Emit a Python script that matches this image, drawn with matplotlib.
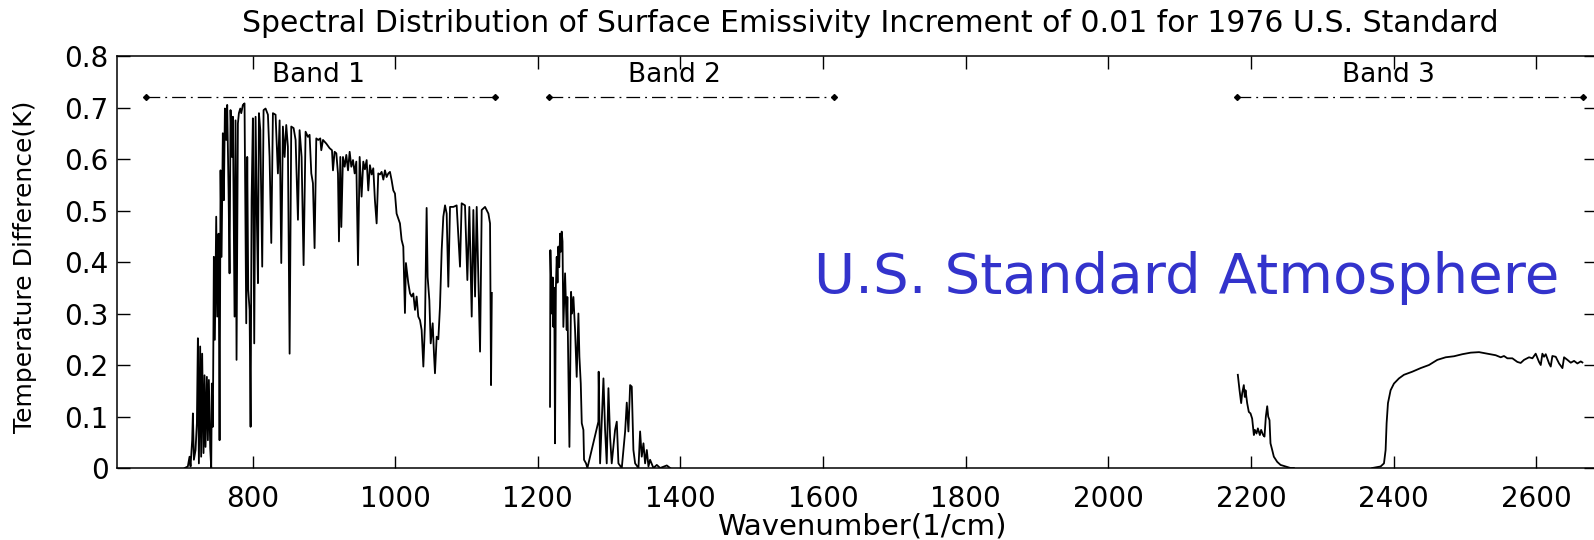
#!/usr/bin/env python

import matplotlib
matplotlib.use('Agg')
import matplotlib.pyplot as plt

plt.rc('font', family='DejaVu Sans')

# band 1 (long-wave window)
band1_x = [705.0, 709.3, 711.7, 713.1, 715.4, 716.4, 717.8, 720.1, 722.0, 723.4,
           724.8, 726.6, 728.0, 729.4, 731.3, 732.7, 734.1, 736.0, 737.4, 738.8,
           740.7, 742.1, 743.0, 744.4, 745.8, 747.2, 749.1, 750.5, 752.4, 753.8,
           755.2, 756.6, 758.4, 759.8, 761.3, 763.1, 764.5, 766.4, 767.8, 769.2,
           771.1, 772.5, 774.8, 776.2, 777.6, 779.5, 780.9, 782.8, 784.2, 786.5,
           788.8, 791.2, 792.6, 794.0, 795.9, 797.3, 798.7, 800.5, 802.4, 804.3,
           806.2, 807.6, 809.0, 810.9, 813.6, 815.5, 818.3, 821.6, 823.9, 826.3,
           828.6, 832.3, 835.6, 838.0, 840.3, 842.6, 845.0, 847.3, 849.6, 852.0,
           854.3, 857.6, 860.4, 863.7, 866.0, 868.8, 871.6, 874.4, 877.7, 880.0,
           882.4, 884.7, 887.0, 889.4, 892.2, 895.0, 896.4, 898.8, 903.4, 908.1,
           911.4, 912.8, 915.1, 917.5, 919.8, 921.2, 923.1, 924.5, 926.8, 929.2,
           931.5, 933.9, 936.2, 938.5, 940.9, 943.2, 945.5, 947.9, 950.2, 952.9,
           955.3, 957.6, 960.0, 962.3, 964.6, 967.0, 969.3, 971.6, 974.0, 976.3,
           978.7, 981.0, 983.4, 985.7, 988.0, 990.4, 992.7, 995.0, 997.4, 999.7,
           1002.0, 1006.7, 1009.0, 1011.4, 1013.7, 1015.1, 1018.4, 1020.8, 1023.1, 1025.4,
           1027.8, 1030.1, 1032.4, 1034.8, 1037.1, 1039.5, 1041.8, 1044.1, 1045.5, 1047.9,
           1049.8, 1052.6, 1054.4, 1055.8, 1058.2, 1060.5, 1062.8, 1065.2, 1067.5, 1069.9,
           1072.2, 1074.5, 1076.9, 1081.6, 1086.2, 1090.9, 1093.2, 1097.9, 1101.2, 1104.0,
           1107.3, 1109.6, 1112.0, 1114.3, 1119.0, 1121.3, 1126.0, 1130.7, 1133.0, 1134.4,
           1135.5]
band1_y = [0.0, 0.003, 0.022, 0.003, 0.054, 0.106, 0.016, 0.035, 0.087, 0.252,
           0.009, 0.236, 0.022, 0.222, 0.029, 0.18, 0.041, 0.177, 0.054, 0.171,
           0.038, 0.0, 0.164, 0.08, 0.41, 0.249, 0.488, 0.294, 0.455, 0.054,
           0.578, 0.41, 0.65, 0.52, 0.698, 0.637, 0.705, 0.539, 0.378, 0.695,
           0.604, 0.682, 0.294, 0.675, 0.21, 0.669, 0.689, 0.698, 0.689, 0.705,
           0.708, 0.281, 0.604, 0.346, 0.307, 0.08, 0.52, 0.679, 0.242, 0.682,
           0.475, 0.359, 0.689, 0.656, 0.391, 0.695, 0.698, 0.686, 0.604, 0.437,
           0.689, 0.686, 0.572, 0.675, 0.398, 0.663, 0.604, 0.666, 0.624, 0.222,
           0.663, 0.66, 0.637, 0.482, 0.656, 0.604, 0.394, 0.653, 0.643, 0.647,
           0.572, 0.553, 0.427, 0.64, 0.637, 0.64, 0.617, 0.637, 0.63, 0.621,
           0.617, 0.578, 0.614, 0.611, 0.572, 0.44, 0.604, 0.468, 0.604, 0.585,
           0.608, 0.578, 0.614, 0.585, 0.598, 0.572, 0.595, 0.394, 0.604, 0.527,
           0.595, 0.58, 0.598, 0.539, 0.588, 0.57, 0.582, 0.52, 0.475, 0.572,
           0.57, 0.575, 0.56, 0.578, 0.565, 0.572, 0.575, 0.559, 0.539, 0.533,
           0.494, 0.475, 0.443, 0.43, 0.301, 0.398, 0.359, 0.339, 0.333, 0.339,
           0.307, 0.333, 0.294, 0.287, 0.268, 0.197, 0.281, 0.505, 0.371, 0.326,
           0.242, 0.281, 0.222, 0.184, 0.255, 0.25, 0.313, 0.423, 0.488, 0.51,
           0.494, 0.352, 0.507, 0.507, 0.51, 0.391, 0.514, 0.51, 0.365, 0.507,
           0.294, 0.501, 0.333, 0.507, 0.226, 0.501, 0.507, 0.494, 0.475, 0.161,
           0.34]

# band 2
band2_x = [1217.1, 1217.6, 1219.5, 1220.9, 1221.8, 1223.0, 1224.1, 1225.3, 1226.5, 1227.6,
           1228.8, 1230.0, 1231.2, 1232.3, 1233.5, 1234.6, 1235.8, 1238.2, 1240.5, 1241.4,
           1244.3, 1246.6, 1248.0, 1249.9, 1252.2, 1254.5, 1256.9, 1258.3, 1260.2, 1261.6,
           1263.9, 1264.8, 1267.6, 1269.5, 1284.9, 1285.3, 1287.3, 1292.0, 1294.3, 1296.6,
           1299.0, 1301.3, 1303.6, 1308.3, 1310.7, 1313.0, 1317.7, 1322.4, 1324.7, 1327.0,
           1329.4, 1331.7, 1334.0, 1336.4, 1341.1, 1343.4, 1345.7, 1348.1, 1350.4, 1352.8,
           1355.1, 1357.4, 1362.1, 1366.8, 1371.5, 1380.8, 1385.5]
band2_y = [0.119, 0.423, 0.30, 0.37, 0.274, 0.35, 0.048, 0.35, 0.41, 0.36,
           0.43, 0.39, 0.455, 0.42, 0.459, 0.44, 0.274, 0.378, 0.268, 0.332,
           0.041, 0.342, 0.30, 0.332, 0.268, 0.177, 0.3, 0.216, 0.164, 0.087,
           0.074, 0.016, 0.009, 0.0, 0.09, 0.187, 0.009, 0.174, 0.074, 0.009,
           0.155, 0.061, 0.009, 0.074, 0.09, 0.009, 0.0, 0.071, 0.127, 0.071,
           0.161, 0.158, 0.035, 0.009, 0.0, 0.071, 0.022, 0.048, 0.009, 0.035,
           0.003, 0.016, 0.0, 0.006, 0.0, 0.005, 0.0]

# band 3, short-wave part before the CO2 gap
band3a_x = [2181.4, 2183.8, 2186.1, 2187.5, 2189.8, 2191.2, 2192.2, 2194.5, 2196.8, 2199.2,
            2201.5, 2203.9, 2205.3, 2207.6, 2209.5, 2212.3, 2214.1, 2216.9, 2218.8, 2220.7,
            2222.6, 2224.0, 2225.8, 2227.2, 2229.6, 2231.9, 2236.6, 2241.3, 2248.3, 2255.3,
            2260.0]
band3a_y = [0.181, 0.151, 0.126, 0.145, 0.161, 0.138, 0.151, 0.126, 0.109, 0.106,
            0.096, 0.064, 0.074, 0.067, 0.077, 0.064, 0.074, 0.064, 0.061, 0.1,
            0.12, 0.1, 0.093, 0.048, 0.035, 0.022, 0.012, 0.006, 0.003, 0.0,
            0.0]

# band 3, after the gap
band3b_x = [2369.9, 2381.6, 2386.3, 2388.6, 2390.0, 2391.9, 2395.6, 2400.3, 2407.3, 2414.3,
            2426.0, 2437.7, 2449.4, 2461.1, 2472.8, 2484.5, 2496.2, 2507.9, 2519.6, 2531.2,
            2542.9, 2550.0, 2554.6, 2559.3, 2566.3, 2573.3, 2578.0, 2582.7, 2589.7, 2594.4,
            2599.0, 2603.7, 2606.1, 2608.4, 2610.7, 2613.1, 2617.8, 2620.1, 2622.4, 2627.1,
            2631.8, 2636.5, 2638.8, 2643.5, 2648.2, 2652.8, 2657.5, 2662.2, 2664.5]
band3b_y = [0.0, 0.003, 0.009, 0.035, 0.087, 0.126, 0.151, 0.164, 0.174, 0.181,
            0.187, 0.194, 0.2, 0.21, 0.215, 0.217, 0.221, 0.224, 0.225, 0.222,
            0.219, 0.215, 0.2175, 0.213, 0.213, 0.206, 0.204, 0.21, 0.215, 0.213,
            0.222, 0.206, 0.2, 0.222, 0.216, 0.221, 0.203, 0.197, 0.2175, 0.216,
            0.203, 0.194, 0.215, 0.21, 0.2045, 0.208, 0.203, 0.207, 0.205]

band_names = ['Band 1', 'Band 2', 'Band 3']
band_start = [650, 1215, 2180]
band_end = [1140, 1615, 2665]
band_label_x = [892, 1392, 2392]
band_level = 0.72

xticks = [800, 1000, 1200, 1400, 1600, 1800, 2000, 2200, 2400, 2600]
yticks = [0, 0.1, 0.2, 0.3, 0.4, 0.5, 0.6, 0.7, 0.8]

fig = plt.figure(figsize=(15.94, 5.40), dpi=100)
ax = fig.add_axes([0.0734, 0.1333, 0.9276, 0.763])

for bx, by in [(band1_x, band1_y), (band2_x, band2_y),
               (band3a_x, band3a_y), (band3b_x, band3b_y)]:
    ax.plot(bx, by, color='k', lw=1.3)

for name, x0, x1, xl in zip(band_names, band_start, band_end, band_label_x):
    ax.plot([x0, x1], [band_level, band_level], color='k', lw=0.9,
            dashes=(11, 4, 1.5, 4), marker='D', markersize=3, markevery=[0, 1])
    ax.text(xl, 0.763, name, ha='center', va='center', fontsize=19)

ax.text(2632, 0.368, 'U.S. Standard Atmosphere', ha='right', va='center',
        fontsize=40.5, color='#3333cc')

ax.set_xlim(610, 2683)
ax.set_ylim(0, 0.8)
ax.set_xticks(xticks)
ax.set_yticks(yticks)
ax.set_yticklabels(['0'] + ['%.1f' % v for v in yticks[1:]])
ax.tick_params(direction='in', top=True, right=True, length=9, width=1,
               labelsize=20)
ax.tick_params(axis='x', pad=12)
ax.tick_params(axis='y', pad=6)
for s in ax.spines.values():
    s.set_linewidth(1.1)

fig.text(870/1594., 1-23/540., 'Spectral Distribution of Surface Emissivity Increment of 0.01 for 1976 U.S. Standard',
         ha='center', va='center', fontsize=21.5)
fig.text(862/1594., 1-526/540., 'Wavenumber(1/cm)', ha='center', va='center', fontsize=21)
fig.text(25/1594., 1-267/540., 'Temperature Difference(K)', ha='center', va='center',
         rotation=90, fontsize=18)

plt.savefig('out.png', dpi=100)
